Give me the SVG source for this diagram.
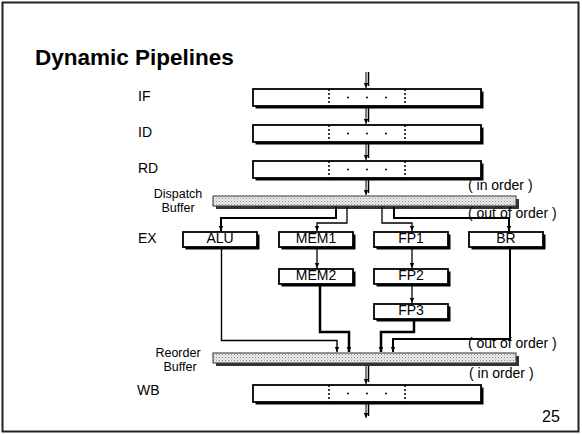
<svg xmlns="http://www.w3.org/2000/svg" width="582" height="434" viewBox="0 0 582 434">
<style>
text{font-family:"Liberation Sans",Arial,sans-serif;fill:#000}
.lbl{font-size:14px}
.note{font-size:14px}
.blab{font-size:14px;text-anchor:middle}
.buf{font-size:12.5px;text-anchor:middle}
.box{fill:#fff;stroke:#000;stroke-width:1.8}
.shd{fill:#000}
.dash{stroke:#000;stroke-width:1.5;stroke-dasharray:2,2}
.bar{fill:url(#stip);stroke:#333;stroke-width:1}
.con{fill:none;stroke:#000}
</style>
<defs>
<pattern id="stip" width="3" height="3" patternUnits="userSpaceOnUse">
<rect width="3" height="3" fill="#ececec"/>
<rect width="1" height="1" fill="#8a8a8a"/>
<rect x="1.5" y="1.5" width="1" height="1" fill="#b0b0b0"/>
</pattern>
<marker id="ah" markerUnits="userSpaceOnUse" markerWidth="6" markerHeight="6" refX="5" refY="3" orient="auto">
<path d="M0,0.8 L5,3 L0,5.2 z" fill="#000"/>
</marker>
</defs>
<rect x="2.5" y="2.5" width="576" height="429" fill="#fff" stroke="#222" stroke-width="2"/>
<text x="35" y="65" style="font-size:22.5px;font-weight:bold">Dynamic Pipelines</text>

<g id="lbl-stages">
<text class="lbl" x="138" y="101">IF</text>
<text class="lbl" x="138" y="137">ID</text>
<text class="lbl" x="138" y="173">RD</text>
<text class="lbl" x="138" y="243">EX</text>
<text class="lbl" x="137" y="395">WB</text>
</g>

<g id="IF">
<rect class="shd" x="255.5" y="91.5" width="228" height="17"/>
<rect class="box" x="253" y="89" width="228" height="17"/>
<line class="dash" x1="329" y1="89" x2="329" y2="106"/><line class="dash" x1="405" y1="89" x2="405" y2="106"/>
<circle cx="348" cy="97.5" r="1"/><circle cx="367" cy="97.5" r="1"/><circle cx="386" cy="97.5" r="1"/>
</g>
<g id="ID">
<rect class="shd" x="255.5" y="127.5" width="228" height="17"/>
<rect class="box" x="253" y="125" width="228" height="17"/>
<line class="dash" x1="329" y1="125" x2="329" y2="142"/><line class="dash" x1="405" y1="125" x2="405" y2="142"/>
<circle cx="348" cy="133.5" r="1"/><circle cx="367" cy="133.5" r="1"/><circle cx="386" cy="133.5" r="1"/>
</g>
<g id="RD">
<rect class="shd" x="255.5" y="163.5" width="228" height="17"/>
<rect class="box" x="253" y="161" width="228" height="17"/>
<line class="dash" x1="329" y1="161" x2="329" y2="178"/><line class="dash" x1="405" y1="161" x2="405" y2="178"/>
<circle cx="348" cy="169.5" r="1"/><circle cx="367" cy="169.5" r="1"/><circle cx="386" cy="169.5" r="1"/>
</g>
<g id="WB">
<rect class="shd" x="255.5" y="387.5" width="228" height="17"/>
<rect class="box" x="253" y="385" width="228" height="17"/>
<line class="dash" x1="329" y1="385" x2="329" y2="402"/><line class="dash" x1="405" y1="385" x2="405" y2="402"/>
<circle cx="348" cy="393.5" r="1"/><circle cx="367" cy="393.5" r="1"/><circle cx="386" cy="393.5" r="1"/>
</g>

<g id="dispatch">
<rect x="216" y="199" width="303" height="10" fill="#333"/>
<rect class="bar" x="213" y="196" width="303" height="10"/>
<text class="buf" x="178" y="198">Dispatch</text>
<text class="buf" x="178" y="212">Buffer</text>
</g>
<g id="reorder">
<rect x="216" y="356" width="303" height="10" fill="#333"/>
<rect class="bar" x="213" y="353" width="303" height="10"/>
<text class="buf" x="178" y="357">Reorder</text>
<text class="buf" x="180" y="371">Buffer</text>
</g>

<g id="ALU"><rect class="shd" x="185.5" y="234.5" width="74" height="15"/><rect class="box" x="183" y="232" width="74" height="15"/><text class="blab" x="220" y="243">ALU</text></g>
<g id="MEM1"><rect class="shd" x="281.5" y="234.5" width="74" height="15"/><rect class="box" x="279" y="232" width="74" height="15"/><text class="blab" x="316" y="243">MEM1</text></g>
<g id="FP1"><rect class="shd" x="376.5" y="234.5" width="74" height="15"/><rect class="box" x="374" y="232" width="74" height="15"/><text class="blab" x="411" y="243">FP1</text></g>
<g id="BR"><rect class="shd" x="471.5" y="234.5" width="74" height="15"/><rect class="box" x="469" y="232" width="74" height="15"/><text class="blab" x="506" y="243">BR</text></g>
<g id="MEM2"><rect class="shd" x="281.5" y="271.5" width="74" height="15"/><rect class="box" x="279" y="269" width="74" height="15"/><text class="blab" x="316" y="280">MEM2</text></g>
<g id="FP2"><rect class="shd" x="376.5" y="271.5" width="74" height="15"/><rect class="box" x="374" y="269" width="74" height="15"/><text class="blab" x="411" y="280">FP2</text></g>
<g id="FP3"><rect class="shd" x="376.5" y="306.5" width="74" height="15"/><rect class="box" x="374" y="304" width="74" height="15"/><text class="blab" x="411" y="315">FP3</text></g>

<g id="notes">
<text class="note" x="468" y="190">( in order )</text>
<text class="note" x="468" y="218">( out of order )</text>
<text class="note" x="468" y="348">( out of order )</text>
<text class="note" x="469" y="378">( in order )</text>
<text x="542" y="422" style="font-size:16px">25</text>
</g>

<g id="connectors">
<g stroke="#000" fill="none">
<line x1="366" y1="72" x2="366" y2="88" stroke-width="1" marker-end="url(#ah)"/><line x1="368.5" y1="72" x2="368.5" y2="86" stroke-width="1.5"/>
<line x1="366" y1="108" x2="366" y2="124" stroke-width="1" marker-end="url(#ah)"/><line x1="368.5" y1="108" x2="368.5" y2="122" stroke-width="1.5"/>
<line x1="366" y1="144" x2="366" y2="160" stroke-width="1" marker-end="url(#ah)"/><line x1="368.5" y1="144" x2="368.5" y2="158" stroke-width="1.5"/>
<line x1="366" y1="180" x2="366" y2="195" stroke-width="1" marker-end="url(#ah)"/><line x1="368.5" y1="180" x2="368.5" y2="193" stroke-width="1.5"/>
<line x1="366" y1="366" x2="366" y2="384" stroke-width="1" marker-end="url(#ah)"/><line x1="368.5" y1="366" x2="368.5" y2="382" stroke-width="1.5"/>
<line x1="366" y1="404" x2="366" y2="418" stroke-width="1" marker-end="url(#ah)"/><line x1="368.5" y1="404" x2="368.5" y2="416" stroke-width="1.5"/>
</g>
<path class="con" d="M336,207 V218 H221 V231" stroke-width="2" marker-end="url(#ah)"/>
<path class="con" d="M347,207 V223 H317 V231" stroke-width="1.3" marker-end="url(#ah)"/>
<path class="con" d="M382,207 V223 H412 V231" stroke-width="1.3" marker-end="url(#ah)"/>
<path class="con" d="M394,207 V218 H509 V231" stroke-width="2" marker-end="url(#ah)"/>
<path class="con" d="M317,249 V268" stroke-width="1.3" marker-end="url(#ah)"/>
<path class="con" d="M412,249 V268" stroke-width="1.3" marker-end="url(#ah)"/>
<path class="con" d="M412,286 V303" stroke-width="1.3" marker-end="url(#ah)"/>
<path class="con" d="M221.5,249 V340.5 H337 V352" stroke-width="1.4" marker-end="url(#ah)"/>
<path class="con" d="M320,286 V332 H349 V352" stroke-width="2.5" marker-end="url(#ah)"/>
<path class="con" d="M414,321 V332 H381 V352" stroke-width="2.5" marker-end="url(#ah)"/>
<path class="con" d="M510,249 V339 H393 V352" stroke-width="2" marker-end="url(#ah)"/>
</g>
</svg>
